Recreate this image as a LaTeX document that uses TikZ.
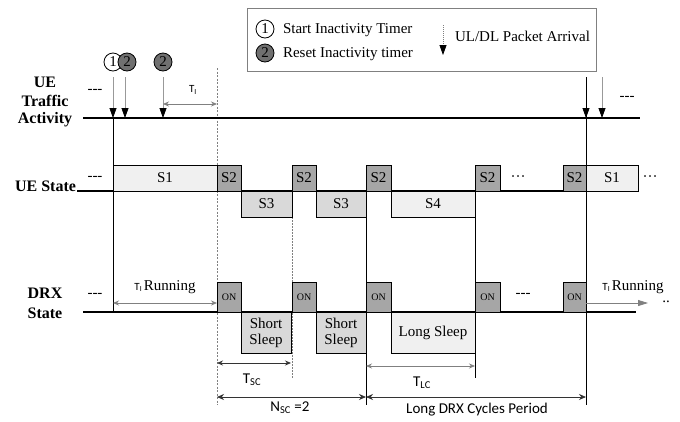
\documentclass[tikz,border=0pt]{standalone}
\usepackage{fontspec}
\setmainfont{Liberation Serif}
\newfontfamily\calfont{Carlito}
\usetikzlibrary{arrows.meta}
\definecolor{gone}{HTML}{F0F0F0}
\definecolor{gtwo}{HTML}{A6A6A6}
\definecolor{gthree}{HTML}{D9D9D9}
\definecolor{gcirc}{HTML}{707070}
\begin{document}
\begin{tikzpicture}[x=1pt,y=-1pt,
  every node/.style={inner sep=0pt,outer sep=0pt},
  lbl/.style={font=\fontsize{16}{18}\selectfont\bfseries,align=center},
  txt/.style={font=\fontsize{15}{17}\selectfont},
  small/.style={font=\calfont\fontsize{11}{12}\selectfont},
  sans/.style={font=\calfont\fontsize{15}{17}\selectfont},
  sbox/.style={draw=black,line width=1pt,anchor=north west,font=\fontsize{15}{17}\selectfont,minimum height=26pt},
  onbox/.style={draw=black,line width=1pt,fill=gtwo,anchor=north west,minimum width=24pt,minimum height=30pt,font=\fontsize{10}{12}\selectfont},
  sleep/.style={draw=black,line width=1pt,anchor=north west,minimum height=41pt,font=\fontsize{15}{17}\selectfont,align=center},
  circ/.style={circle,draw=black,line width=0.8pt,minimum size=18pt,font=\fontsize{15}{17}\selectfont},
  base/.style={draw=black,line width=1.2pt},
  vline/.style={draw=black,line width=1pt},
  pkt/.style={draw=gray!80,line width=0.8pt,-{Triangle[length=10pt,width=7pt,color=black,fill=black]}},
  dim/.style={draw=black!80,line width=0.8pt,{Stealth[length=6pt,width=5pt]}-{Stealth[length=6pt,width=5pt]}},
  gdim/.style={draw=gray,line width=0.8pt,{Stealth[length=6pt,width=5pt]}-{Stealth[length=6pt,width=5pt]}},
]
\useasboundingbox (0,0) rectangle (680,421);
\fill[white] (0,0) rectangle (680,421);

% ---------- coordinates ----------
\coordinate (tlL) at (83,118);  \coordinate (tlR) at (640,118);
\coordinate (usL) at (77,191);  \coordinate (usR) at (586,191);
\coordinate (drL) at (83,312);  \coordinate (drR) at (636,312);

% ---------- guide lines ----------
\coordinate (dashT) at (217,68); \coordinate (dashB) at (217,405);
\draw[gray,dashed,line width=0.8pt,dash pattern=on 2pt off 1.5pt] (dashT) -- (dashB);
\coordinate (dotT) at (292,217); \coordinate (dotB) at (292,378);
\draw[gray,line width=0.8pt,dash pattern=on 1.5pt off 1.5pt] (dotT) -- (dotB);

% ---------- legend ----------
\node[draw=gray,line width=1pt,minimum width=349pt,minimum height=63pt,anchor=north west] (legend) at (247,8) {};
\node[circ,fill=white] (lc1) at (265,29) {1};
\node[circ,fill=gcirc] (lc2) at (265,53) {2};
\node[txt,anchor=west] (lt1) at (283,30) {Start Inactivity Timer};
\node[txt,anchor=west] (lt2) at (283,54) {Reset Inactivity timer};
\coordinate (laT) at (443,25); \coordinate (laB) at (443,55);
\draw[draw=gray,line width=0.8pt,dash pattern=on 1pt off 1pt,-{Triangle[length=10pt,width=7pt,color=black,fill=black]}] (laT) -- (laB);
\node[txt,anchor=west] (lt3) at (455,36) {UL/DL Packet Arrival};

% ---------- row labels ----------
\node[lbl] (lUE) at (45,82) {UE};
\node[lbl] (lTraffic) at (45,101) {Traffic};
\node[lbl] (lActivity) at (45,120) {Activity};
\node[lbl,anchor=east] (lUEState) at (76,186) {UE State};
\node[lbl] (lDRX) at (45,293) {DRX};
\node[lbl] (lState) at (45,313) {State};
\node[txt] (d1) at (95,91) {-{}-{}-};
\node[txt] (d2) at (95,178) {-{}-{}-};
\node[txt] (d3) at (95,295) {-{}-{}-};
\node[txt] (d4) at (627,98) {-{}-{}-};
\node[txt] (d5) at (523,295) {-{}-{}-};
\node[txt] (e1) at (518,179) {···};
\node[txt] (e2) at (650,179) {···};

% ---------- vertical solid lines ----------
\coordinate (v1T) at (113,118); \coordinate (v1B) at (113,312);
\draw[vline] (v1T) -- (v1B);
\coordinate (v2T) at (366,165); \coordinate (v2B) at (366,405);
\draw[vline] (v2T) -- (v2B);
\coordinate (v3T) at (475,165); \coordinate (v3B) at (475,378);
\draw[vline] (v3T) -- (v3B);
\coordinate (v4T) at (586,77); \coordinate (v4B) at (586,405);
\draw[vline] (v4T) -- (v4B);

% ---------- baselines ----------
\draw[base] (tlL) -- (tlR);
\draw[base] (usL) -- (usR);
\draw[base] (drL) -- (drR);

% ---------- traffic activity ----------
\coordinate (a1T) at (113,77); \coordinate (a1B) at (113,118);
\coordinate (a2T) at (125,77); \coordinate (a2B) at (125,118);
\coordinate (a3T) at (163,77); \coordinate (a3B) at (163,118);
\coordinate (a4B) at (586,118);
\coordinate (a5T) at (602,77); \coordinate (a5B) at (602,118);
\draw[pkt] (a1T) -- (a1B);
\draw[pkt] (a2T) -- (a2B);
\draw[pkt] (a3T) -- (a3B);
\draw[pkt,draw=black] (v4T) -- (a4B);
\draw[pkt] (a5T) -- (a5B);
\node[circ,fill=white] (c1) at (113,62) {1};
\node[circ,fill=gcirc] (c2) at (127,62) {2};
\node[circ,fill=gcirc] (c3) at (163,62) {2};
\coordinate (tiL) at (163,104); \coordinate (tiR) at (217,104);
\draw[gdim] (tiL) -- (tiR);
\node[small] (tiLbl) at (193,90) {T\textsubscript{I}};

% ---------- UE state ----------
\node[sbox,fill=gone,minimum width=104pt] (s1a) at (113,165) {S1};
\node[sbox,fill=gtwo,minimum width=24pt] (s2a) at (217,165) {S2};
\node[sbox,fill=gthree,minimum width=51pt] (s3a) at (241,191) {S3};
\node[sbox,fill=gtwo,minimum width=24pt] (s2b) at (292,165) {S2};
\node[sbox,fill=gthree,minimum width=50pt] (s3b) at (316,191) {S3};
\node[sbox,fill=gtwo,minimum width=25pt] (s2c) at (366,165) {S2};
\node[sbox,fill=gone,minimum width=84pt] (s4) at (391,191) {S4};
\node[sbox,fill=gtwo,minimum width=25pt] (s2d) at (475,165) {S2};
\node[sbox,fill=gtwo,minimum width=23pt] (s2e) at (563,165) {S2};
\node[sbox,fill=gone,minimum width=52pt] (s1b) at (586,165) {S1};
\draw[vline] (586,165) -- (586,191);

% ---------- DRX state ----------
\node[onbox] (on1) at (217,282) {ON};
\node[sleep,fill=gthree,minimum width=50pt] (ss1) at (241,312) {Short\\[-1pt]Sleep};
\node[onbox] (on2) at (292,282) {ON};
\node[sleep,fill=gthree,minimum width=50pt] (ss2) at (316,312) {Short\\[-1pt]Sleep};
\node[onbox,minimum width=25pt] (on3) at (366,282) {ON};
\node[sleep,fill=gone,minimum width=84pt] (ls) at (391,312) {Long Sleep};
\node[onbox,minimum width=25pt] (on4) at (475,282) {ON};
\node[onbox,minimum width=23pt] (on5) at (563,282) {ON};

\coordinate (trL) at (113,303); \coordinate (trR) at (217,303);
\draw[gdim] (trL) -- (trR);
\node[anchor=base] (tr1) at (165,290) {{\calfont\fontsize{11}{12}\selectfont T\textsubscript{I}}\,{\fontsize{15}{17}\selectfont Running}};
\coordinate (tr2L) at (586,303); \coordinate (tr2R) at (648,303);
\draw[draw=gray,line width=0.8pt,-{Triangle[length=10pt,width=6pt,color=gray,fill=gray]}] (tr2L) -- (tr2R);
\node[anchor=base] (tr2) at (633,290) {{\calfont\fontsize{11}{12}\selectfont T\textsubscript{I}}\,{\fontsize{15}{17}\selectfont Running}};
\node[txt] (e3) at (666,302) {..};

% ---------- dimensions ----------
\coordinate (tscL) at (217,363); \coordinate (tscR) at (291,363);
\draw[dim] (tscL) -- (tscR);
\node[sans] (tsc) at (252,380) {T\textsubscript{SC}};
\coordinate (nscL) at (217,397); \coordinate (nscR) at (366,397);
\draw[dim,{Stealth[length=7pt,width=6pt]}-{Stealth[length=7pt,width=6pt]}] (nscL) -- (nscR);
\node[sans] (nsc) at (290,408) {N\textsubscript{SC} =2};
\coordinate (tlcL) at (366,366); \coordinate (tlcR) at (475,366);
\draw[gdim] (tlcL) -- (tlcR);
\node[sans] (tlc) at (422,383) {T\textsubscript{LC}};
\coordinate (ldL) at (366,397); \coordinate (ldR) at (586,397);
\draw[dim,{Stealth[length=7pt,width=6pt]}-{Stealth[length=7pt,width=6pt]}] (ldL) -- (ldR);
\node[sans] (ld) at (477,410) {Long DRX Cycles Period};
\end{tikzpicture}
\end{document}
